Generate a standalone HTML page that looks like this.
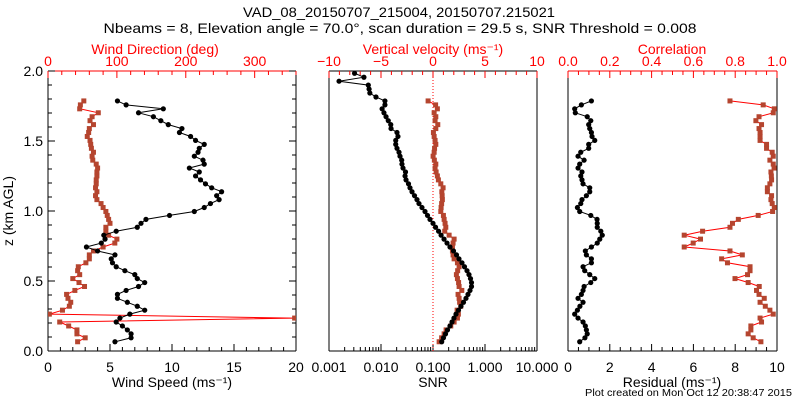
<!DOCTYPE html>
<html><head><meta charset="utf-8"><style>
html,body{margin:0;padding:0;background:#fff;}
svg{display:block;font-family:"Liberation Sans",sans-serif;}
</style></head><body>
<svg id="chart" width="800" height="400" viewBox="0 0 800 400" xmlns="http://www.w3.org/2000/svg">
<rect width="800" height="400" fill="#fff"/>
<text x="399" y="17" font-size="14" text-anchor="middle" textLength="312" lengthAdjust="spacingAndGlyphs">VAD_08_20150707_215004, 20150707.215021</text>
<text x="400" y="33" font-size="14" text-anchor="middle" textLength="593" lengthAdjust="spacingAndGlyphs">Nbeams = 8, Elevation angle = 70.0°, scan duration = 29.5 s, SNR Threshold = 0.008</text>
<text transform="translate(13,211) rotate(-90)" font-size="14" text-anchor="middle">z (km AGL)</text>
<text x="792" y="396" font-size="10.5" text-anchor="end" textLength="207" lengthAdjust="spacingAndGlyphs">Plot created on Mon Oct 12 20:38:47 2015</text>
<g id="layer"></g>
</svg>
<script>
// heights: z0 + i*dz
const z0 = 0.066, dz = 0.0282;
const windSpeed = [5.4,6.7,6.7,6.4,6.0,5.5,5.8,6.6,7.8,7.2,6.4,5.6,5.6,6.3,7.3,7.8,7.2,7.0,6.2,5.5,5.2,5.1,5.4,4.0,3.1,4.3,4.6,4.5,5.5,7.2,7.5,7.9,9.8,11.8,12.6,13.1,13.8,13.6,14.0,13.2,12.7,12.3,11.9,12.2,11.4,12.6,12.5,11.8,12.1,12.2,12.6,11.9,11.5,10.6,10.8,9.7,9.1,8.5,7.3,9.3,6.3,5.6];
const windDir = [43,54,42,42,30,17,358,2,21,31,33,29,27,39,53,45,36,46,43,44,55,60,60,66,80,97,100,88,84,84,90,88,86,84,80,77,71,69,71,69,70,70,71,71,72,70,65,64,66,63,62,61,57,59,60,66,61,64,73,46,47,52];
const snr = [0.147,0.159,0.174,0.190,0.212,0.232,0.253,0.277,0.309,0.345,0.386,0.431,0.471,0.515,0.550,0.550,0.526,0.492,0.451,0.403,0.361,0.316,0.283,0.248,0.212,0.186,0.163,0.143,0.128,0.112,0.100,0.0875,0.0784,0.0702,0.0614,0.0538,0.0492,0.0441,0.0395,0.0361,0.0338,0.0303,0.0290,0.0296,0.0265,0.0253,0.0250,0.0232,0.0222,0.0203,0.0192,0.0192,0.0212,0.0203,0.0156,0.0154,0.0138,0.0125,0.0114,0.0105,0.0119,0.0119,0.0080,0.0061,0.0059,0.0057,0.00156,0.0047,0.0031];
const wVel = [0.59,0.83,1.07,1.26,1.71,2.03,2.35,2.44,2.32,2.67,2.56,2.51,2.41,2.77,2.51,2.46,2.35,2.25,2.37,2.51,2.35,2.03,1.93,1.87,1.87,1.93,2.03,1.55,1.13,1.23,1.16,1.07,1.0,0.75,0.78,0.83,0.9,0.88,0.85,0.97,0.75,0.52,0.42,0.3,0.2,0.27,0.13,0.01,0.11,0.15,0.27,0.2,0.11,0.04,0.27,0.46,0.2,0.27,0.11,0.42,0.25,-0.47];
const residual = [0.56,0.81,0.92,0.88,0.83,0.72,0.48,0.32,0.45,0.57,0.72,0.48,0.64,0.72,0.77,1.09,1.28,1.04,0.80,0.72,1.12,1.12,0.88,0.83,1.12,1.40,1.52,1.64,1.57,1.40,1.40,1.39,1.09,0.56,0.45,0.61,0.67,0.88,1.04,1.04,0.72,0.67,0.61,0.67,0.48,0.56,0.77,0.48,0.61,0.99,0.99,1.28,1.15,1.12,1.04,0.99,1.09,0.92,0.35,0.32,0.64,1.12];
const correlation = [0.923,0.886,0.862,0.875,0.875,0.926,0.919,0.982,0.966,0.944,0.919,0.939,0.914,0.902,0.915,0.862,0.799,0.859,0.871,0.871,0.763,0.735,0.834,0.775,0.556,0.599,0.634,0.556,0.644,0.775,0.787,0.815,0.910,0.979,0.987,0.977,0.971,0.974,0.954,0.954,0.966,0.974,0.973,0.971,0.986,0.982,0.966,0.982,0.977,0.950,0.950,0.919,0.919,0.919,0.914,0.926,0.899,0.914,0.982,0.987,0.934,0.775];
const yTicks = ["0.0","0.5","1.0","1.5","2.0"];
const speedTicks = ["0","5","10","15","20"];
const dirTicks = ["0","100","200","300"];
const wTicks = ["\u221210","\u22125","0","5","10"];
const snrTicks = ["0.001","0.010","0.100","1.000","10.000"];
const corrTicks = ["0.0","0.2","0.4","0.6","0.8","1.0"];
const resTicks = ["0","2","4","6","8","10"];

const NS = "http://www.w3.org/2000/svg";
const layer = document.getElementById('layer');
const BROWN = "#b5452f", RED = "#ff0000";
function mk(tag, attrs, parent){ const e=document.createElementNS(NS,tag); for(const k in attrs) e.setAttribute(k,attrs[k]); (parent||layer).appendChild(e); return e; }
const Y0 = 351, Y1 = 71;
const yScale = z => Y0 - (z/2.0)*(Y0-Y1);
const zAt = i => z0 + i*dz;
const P1 = {l:48,r:296}, P2 = {l:329,r:537}, P3 = {l:568,r:777};
const lin = (p,a,b) => v => p.l + (v-a)/(b-a)*(p.r-p.l);
const xSpeed = lin(P1,0,20), xDir = lin(P1,0,360);
const xW = lin(P2,-10,10), xSnr = v => P2.l + (Math.log10(v)+3)/4*(P2.r-P2.l);
const xRes = lin(P3,0,10), xCorr = lin(P3,0,1);

function frame(p, name, topColor){
  const g = mk('g',{});
  
  
  mk('line',{x1:p.l,y1:Y0,x2:p.r,y2:Y0,stroke:'#000'},g);
  mk('line',{x1:p.l,y1:Y0,x2:p.l,y2:Y1,stroke:'#000'},g);
  mk('line',{x1:p.r,y1:Y0,x2:p.r,y2:Y1,stroke:'#000'},g);
  mk('line',{x1:p.l,y1:Y1,x2:p.r,y2:Y1,stroke:topColor},g);
}
function tick(x1,y1,x2,y2,c){ mk('line',{x1,y1,x2,y2,stroke:c,'stroke-width':1}); }
function label(x,y,t,anchor,color,size,name){
  const e = mk('text',{x,y,'font-size':size||13,'text-anchor':anchor||'middle',fill:color||'#000'});
  e.textContent=t;
  
  
  return e;
}
frame(P1,'wind-panel',RED); frame(P2,'snr-panel','#000'); frame(P3,'residual-panel',RED);

// y ticks panel 1
for(let k=0;k<=20;k++){ const z=k/10, y=yScale(z), L=(k%5===0)?7:4;
  tick(P1.l,y,P1.l+L,y,'#000'); tick(P1.r,y,P1.r-L,y,'#000'); }
yTicks.forEach(t=>label(43,yScale(parseFloat(t))+5,t,'end','#000',14,'y-tick-label'));
// panel1 bottom speed
for(let v=0;v<=20;v++){ const x=xSpeed(v); tick(x,Y0,x,Y0-(v%5===0?7:4),'#000'); }
speedTicks.forEach(t=>label(xSpeed(+t),372,t,'middle','#000',14,'speed-tick-label'));
label((P1.l+P1.r)/2,387,'Wind Speed (ms\u207B\u00B9)','middle','#000',14,'x-axis-title-speed');
// panel1 top dir
for(let v=0;v<=360;v+=20){ const x=xDir(v); tick(x,Y1,x,Y1+(v%100===0?7:4),RED); }
dirTicks.forEach(t=>label(xDir(+t),66,t,'middle',RED,14,'direction-tick-label'));
label(155,54,'Wind Direction (deg)','middle',RED,14,'x-axis-title-direction');
// panel2 top w
for(let v=-10;v<=10;v++){ const x=xW(v); tick(x,Y1,x,Y1+(v%5===0?7:4),RED); }
wTicks.forEach(t=>label(xW(parseFloat(t.replace('\u2212','-'))),66,t,'middle',RED,14,'w-tick-label'));
label(433,54,'Vertical velocity (ms\u207B\u00B9)','middle',RED,14,'x-axis-title-vertical-velocity');
// panel2 bottom log
for(let d=-3; d<1; d++){ for(let m=1;m<=9;m++){ const x=xSnr(m*Math.pow(10,d)); tick(x,Y0,x,Y0-(m===1?7:4),'#000'); } }
tick(P2.r,Y0,P2.r,Y0-7,'#000');
snrTicks.forEach(t=>label(xSnr(+t),372,t,'middle','#000',14,'snr-tick-label'));
label(433,387,'SNR','middle','#000',14,'x-axis-title-snr');
// panel3
for(let k=0;k<=20;k++){ const v=k*0.05, x=xCorr(v); tick(x,Y1,x,Y1+(k%4===0?7:4),RED); }
corrTicks.forEach(t=>label(xCorr(+t),66,t,'middle',RED,14,'correlation-tick-label'));
label(672,54,'Correlation','middle',RED,14,'x-axis-title-correlation');
for(let k=0;k<=20;k++){ const v=k*0.5, x=xRes(v); tick(x,Y0,x,Y0-(k%4===0?7:4),'#000'); }
resTicks.forEach(t=>label(xRes(+t),372,t,'middle','#000',14,'residual-tick-label'));
label(672,387,'Residual (ms\u207B\u00B9)','middle','#000',14,'x-axis-title-residual');
// w=0 dotted
const dl = mk('line',{x1:xW(0),y1:Y1,x2:xW(0),y2:Y0,stroke:RED,'stroke-dasharray':'1,2'});



// clip paths
const defs = mk('defs',{});
[[P1,'c1'],[P2,'c2'],[P3,'c3']].forEach(([p,id])=>{ const cp=mk('clipPath',{id},defs); mk('rect',{x:p.l,y:Y1,width:p.r-p.l,height:Y0-Y1},cp); });

function series(vals, xf, lineColor, markColor, square, name, clip){
  const g = mk('g',{'clip-path':'url(#'+clip+')'});
  
  
  const pts = vals.map((v,i)=>[xf(v), yScale(zAt(i))]);
  mk('polyline',{points:pts.map(p=>p[0].toFixed(1)+','+p[1].toFixed(1)).join(' '),fill:'none',stroke:lineColor,'stroke-width':1},g);
  pts.forEach(p=>{
    let m;
    if(square) m = mk('rect',{x:p[0]-2.5,y:p[1]-2.5,width:5,height:5,fill:markColor},g);
    else m = mk('circle',{cx:p[0],cy:p[1],r:2.6,fill:markColor},g);
    
    
  });
}
series(windDir, xDir, RED, BROWN, true, 'wind-direction-series','c1');
series(windSpeed, xSpeed, '#000', '#000', false, 'wind-speed-series','c1');
series(wVel, xW, RED, BROWN, true, 'vertical-velocity-series','c2');
series(snr, xSnr, '#000', '#000', false, 'snr-series','c2');
series(correlation, xCorr, RED, BROWN, true, 'correlation-series','c3');
series(residual, xRes, '#000', '#000', false, 'residual-series','c3');
</script>
</body></html>
